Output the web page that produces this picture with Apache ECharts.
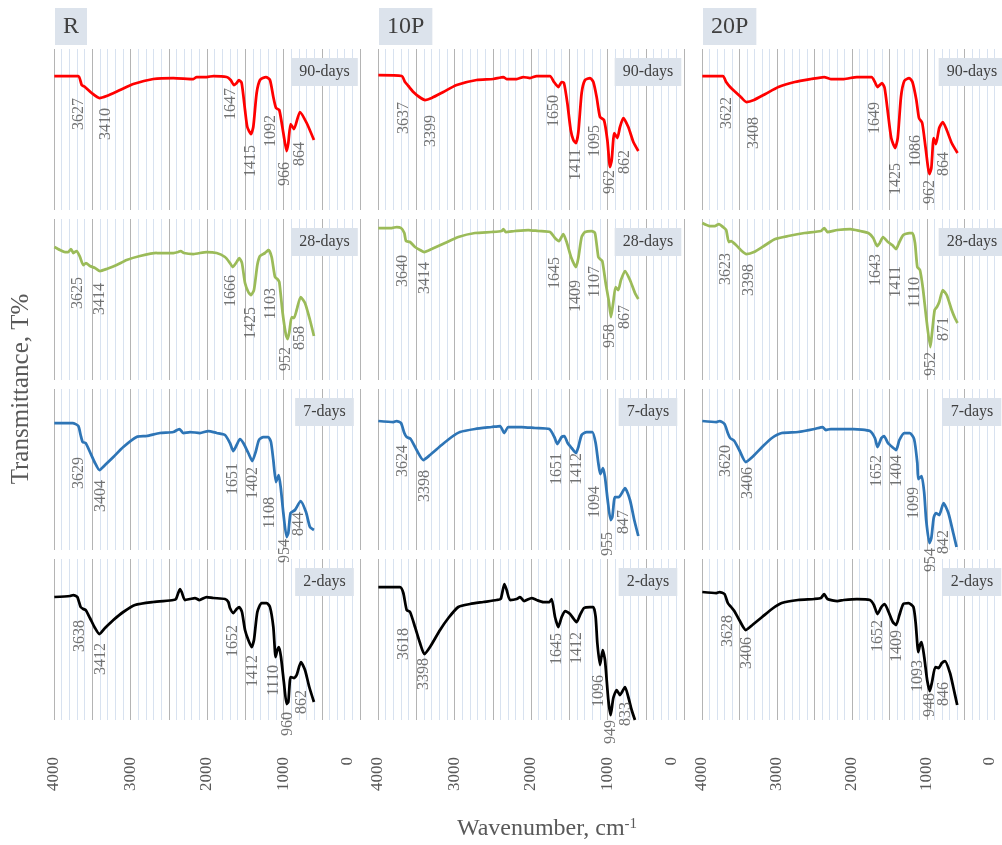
<!DOCTYPE html>
<html><head><meta charset="utf-8">
<script src="https://cdn.jsdelivr.net/npm/echarts@6/dist/echarts.min.js"></script>
<style>html,body{margin:0;padding:0;background:#fff}#c{width:1002px;height:845px}</style>
</head><body><div id="c"></div>
<script>
// ---------- categories ----------
const samples = ['R', '10P', '20P'];
const ages = ['90-days', '28-days', '7-days', '2-days'];
const xTickLabels = [4000, 3000, 2000, 1000, 0];

// ---------- spectra: [wavenumber cm-1, transmittance (a.u.)] ----------
const R_90 = [[3996,134],[3682,134],[3638,125],[3595,123],[3508,117],[3407,112],[3312,114],[3137,120],[2963,126],[2702,131],[2440,132],[2179,131],[2135,133],[2005,133],[1917,134],[1743,133],[1691,130],[1647,125],[1612,127],[1582,130],[1547,127],[1503,100],[1473,83],[1425,76],[1395,83],[1351,117],[1307,130],[1229,133],[1177,130],[1133,113],[1098,102],[1055,100],[1002,77],[959,59],[937,67],[907,86],[863,81],[785,98],[697,87],[602,70]];
const R_28 = [[3996,133],[3922,130],[3856,128],[3813,128],[3778,131],[3747,127],[3704,129],[3660,123],[3617,115],[3582,117],[3530,114],[3464,112],[3399,109],[3312,111],[3181,115],[3050,120],[2876,124],[2658,127],[2440,127],[2375,128],[2344,129],[2301,127],[2179,126],[2005,128],[1874,127],[1765,123],[1700,117],[1665,113],[1612,118],[1578,122],[1543,117],[1503,97],[1460,88],[1425,85],[1386,90],[1342,115],[1307,124],[1242,127],[1194,130],[1155,123],[1111,103],[1081,101],[1055,98],[1011,67],[968,45],[946,41],[924,48],[893,63],[863,62],[828,70],[776,83],[719,77],[654,60],[602,44]];
const R_7 = [[3996,127],[3791,127],[3756,127],[3682,124],[3652,115],[3625,108],[3586,107],[3530,98],[3464,87],[3407,80],[3333,85],[3224,93],[3094,103],[2920,113],[2789,114],[2615,117],[2440,118],[2362,121],[2310,117],[2222,118],[2092,117],[1983,119],[1874,117],[1765,115],[1700,107],[1656,99],[1612,105],[1569,111],[1525,107],[1460,97],[1408,89],[1364,98],[1321,110],[1264,113],[1199,113],[1164,108],[1133,90],[1098,68],[1063,75],[1037,63],[1002,37],[959,13],[937,17],[907,37],[850,40],[776,49],[706,38],[654,23],[602,20]];
const R_2 = [[3996,123],[3791,124],[3747,125],[3695,123],[3652,113],[3617,111],[3586,110],[3530,102],[3464,92],[3407,86],[3333,92],[3224,100],[3094,108],[2941,115],[2702,118],[2440,120],[2405,121],[2353,131],[2331,128],[2288,120],[2222,121],[2157,122],[2100,120],[2005,123],[1917,122],[1765,121],[1721,118],[1700,112],[1656,107],[1612,111],[1578,113],[1543,108],[1503,90],[1460,80],[1416,73],[1386,80],[1342,108],[1286,117],[1220,117],[1177,113],[1133,93],[1103,63],[1081,70],[1059,73],[1033,63],[994,37],[959,16],[937,18],[907,43],[863,42],[828,45],[772,58],[719,50],[663,33],[602,18]];

const P10_90 = [[3995,135],[3690,134],[3647,128],[3603,124],[3538,118],[3459,113],[3385,110],[3298,112],[3146,118],[2971,125],[2710,130],[2492,131],[2362,133],[2318,131],[2187,131],[2100,133],[2013,132],[1926,134],[1752,134],[1699,128],[1643,123],[1599,128],[1569,127],[1525,107],[1481,80],[1446,70],[1412,67],[1381,78],[1338,117],[1294,130],[1229,132],[1185,128],[1142,113],[1098,93],[1046,90],[1002,70],[967,43],[945,50],[911,77],[871,72],[837,83],[793,92],[728,83],[662,68],[597,59]];
const P10_28 = [[3996,152],[3821,152],[3756,153],[3699,152],[3656,147],[3634,139],[3582,138],[3516,133],[3451,130],[3395,128],[3299,131],[3124,137],[2950,143],[2732,147],[2514,148],[2384,149],[2362,151],[2331,148],[2209,149],[2035,150],[1904,149],[1752,148],[1687,142],[1634,139],[1578,146],[1534,138],[1477,123],[1412,113],[1381,122],[1338,143],[1294,148],[1207,149],[1164,147],[1120,123],[1098,121],[1068,119],[1024,97],[981,78],[955,63],[924,78],[894,93],[859,90],[824,100],[771,109],[706,100],[641,87],[597,81]];
const P10_7 = [[3996,129],[3800,128],[3756,129],[3699,127],[3656,117],[3625,113],[3573,111],[3495,100],[3408,90],[3320,95],[3168,105],[3037,113],[2928,118],[2732,121],[2514,123],[2405,124],[2349,117],[2297,123],[2122,123],[1948,122],[1761,121],[1695,113],[1656,106],[1600,113],[1565,114],[1521,107],[1469,102],[1412,97],[1381,103],[1338,115],[1273,118],[1199,118],[1155,107],[1120,87],[1094,76],[1059,82],[1033,73],[998,50],[959,30],[937,33],[902,53],[850,53],[771,62],[706,50],[650,30],[597,14]];
const P10_2 = [[3995,133],[3712,133],[3669,127],[3625,110],[3581,108],[3516,93],[3451,77],[3394,66],[3320,73],[3189,90],[3080,102],[2950,113],[2797,116],[2623,118],[2449,120],[2396,121],[2348,136],[2318,130],[2274,120],[2187,121],[2144,123],[2091,119],[1991,122],[1926,120],[1839,118],[1760,118],[1730,121],[1686,103],[1643,93],[1599,103],[1555,109],[1490,106],[1403,98],[1359,105],[1307,112],[1229,113],[1185,113],[1155,103],[1133,77],[1098,55],[1063,70],[1033,60],[989,20],[959,5],[924,22],[880,30],[837,25],[771,33],[728,23],[684,10],[641,0]];

const P20_90 = [[3996,134],[3721,134],[3678,128],[3625,123],[3569,119],[3482,113],[3408,108],[3307,110],[3155,116],[2981,123],[2763,128],[2545,131],[2371,133],[2283,131],[2109,131],[1935,133],[1739,133],[1695,128],[1660,123],[1630,125],[1600,127],[1565,122],[1521,97],[1477,72],[1425,62],[1390,72],[1347,113],[1303,129],[1238,132],[1194,128],[1142,110],[1107,92],[1064,87],[1020,63],[968,36],[942,42],[911,72],[881,66],[837,82],[789,88],[737,80],[671,67],[593,57]];
const P20_28 = [[3996,157],[3896,154],[3830,154],[3774,156],[3721,153],[3678,150],[3643,138],[3612,139],[3547,135],[3469,129],[3408,126],[3307,128],[3155,135],[3024,141],[2850,144],[2632,147],[2414,149],[2371,152],[2327,148],[2196,150],[2022,151],[1891,149],[1782,147],[1717,142],[1665,134],[1630,137],[1586,143],[1521,138],[1464,135],[1412,131],[1368,138],[1316,145],[1238,147],[1194,147],[1160,137],[1129,113],[1094,110],[1055,92],[1011,63],[955,33],[933,47],[898,70],[868,73],[837,78],[789,90],[737,85],[671,70],[628,62],[593,57]];
const P20_7 = [[3996,129],[3808,128],[3765,129],[3700,126],[3656,117],[3625,112],[3569,109],[3503,100],[3416,88],[3329,93],[3198,103],[3068,112],[2937,117],[2719,118],[2501,121],[2392,123],[2349,120],[2283,121],[2109,121],[1978,121],[1761,119],[1695,112],[1660,103],[1608,112],[1573,114],[1521,107],[1464,103],[1412,100],[1368,110],[1303,117],[1229,117],[1172,111],[1129,87],[1116,71],[1072,74],[1037,57],[1011,30],[968,7],[942,12],[911,32],[881,37],[837,35],[780,47],[715,37],[650,17],[606,3]];
const P20_2 = [[3996,128],[3808,127],[3765,128],[3700,126],[3656,117],[3612,113],[3569,109],[3503,100],[3416,90],[3329,95],[3198,103],[3068,111],[2937,117],[2719,120],[2501,121],[2414,122],[2371,126],[2327,121],[2196,119],[2109,120],[1935,121],[1761,120],[1708,115],[1660,106],[1608,113],[1565,116],[1512,108],[1456,98],[1412,95],[1368,105],[1316,116],[1247,117],[1181,113],[1151,97],[1116,68],[1094,75],[1072,78],[1037,63],[998,40],[963,29],[933,38],[889,53],[846,52],[802,57],[759,59],[693,47],[650,33],[597,15]];

// ---------- peak annotations: [wavenumber, transmittance at label top, text] ----------
const R_90_peaks = [[3682,112,'3627'],[3325,102,'3410'],[1691,122,'1647'],[1429,65,'1415'],[1168,95,'1092'],[981,48,'966'],[793,68,'864']];
const R_28_peaks = [[3695,103,'3625'],[3399,97,'3414'],[1691,105,'1666'],[1429,73,'1425'],[1168,92,'1103'],[968,33,'952'],[793,54,'858']];
const R_7_peaks = [[3682,93,'3629'],[3390,70,'3404'],[1665,87,'1651'],[1403,83,'1402'],[1177,53,'1108'],[981,11,'954'],[806,38,'844']];
const R_2_peaks = [[3660,100,'3638'],[3390,77,'3412'],[1665,95,'1652'],[1403,65,'1412'],[1133,55,'1110'],[950,8,'960'],[763,30,'862']];
const P10_90_peaks = [[3669,108,'3637'],[3311,95,'3399'],[1699,115,'1650'],[1416,61,'1411'],[1163,85,'1095'],[976,40,'962'],[771,60,'862']];
const P10_28_peaks = [[3682,125,'3640'],[3386,118,'3414'],[1687,123,'1645'],[1412,100,'1409'],[1164,114,'1107'],[968,56,'958'],[780,75,'867']];
const P10_7_peaks = [[3682,105,'3624'],[3386,80,'3398'],[1665,97,'1651'],[1403,97,'1412'],[1164,64,'1094'],[998,18,'955'],[793,40,'847']];
const P10_2_peaks = [[3669,92,'3618'],[3398,62,'3398'],[1664,87,'1645'],[1403,88,'1412'],[1120,45,'1096'],[959,0,'949'],[762,18,'833']];
const P20_90_peaks = [[3669,113,'3622'],[3307,93,'3408'],[1695,108,'1649'],[1421,47,'1425'],[1151,75,'1086'],[968,30,'962'],[780,58,'864']];
const P20_28_peaks = [[3686,127,'3623'],[3373,116,'3398'],[1682,126,'1643'],[1412,114,'1411'],[1160,103,'1110'],[955,28,'952'],[780,63,'871']];
const P20_7_peaks = [[3678,105,'3620'],[3394,83,'3406'],[1674,95,'1652'],[1403,95,'1404'],[1172,63,'1099'],[955,2,'954'],[780,20,'842']];
const P20_2_peaks = [[3656,105,'3628'],[3408,83,'3406'],[1652,100,'1652'],[1403,90,'1409'],[1129,60,'1093'],[963,27,'948'],[780,38,'846']];

const spectra = [[R_90, R_28, R_7, R_2], [P10_90, P10_28, P10_7, P10_2], [P20_90, P20_28, P20_7, P20_2]];
const peaks = [[R_90_peaks, R_28_peaks, R_7_peaks, R_2_peaks], [P10_90_peaks, P10_28_peaks, P10_7_peaks, P10_2_peaks], [P20_90_peaks, P20_28_peaks, P20_7_peaks, P20_2_peaks]];

// ---------- layout & style ----------
const FONT = "'Liberation Serif','Times New Roman',serif";
const lineColors = ['#ff0000', '#9bbb59', '#2e75b6', '#000000'];
const colLeft = [54, 378, 702], colWidth = [306, 306, 305];
const rowTop = [49, 219, 389, 559], rowH = 161;
const boxCenter = [324.5, 648, 972];
const BOX = '#dce3ec';

const grids = [], xAxes = [], yAxes = [], series = [], titles = [];
samples.forEach((s, c) => {
  titles.push({text: s, left: colLeft[c] + 1, top: 8, backgroundColor: BOX, padding: [6, 8, 6, 8],
    textStyle: {fontFamily: FONT, fontSize: 24, fontWeight: 'normal', color: '#404040', lineHeight: 25}});
  ages.forEach((a, r) => {
    const i = c * 4 + r;
    grids.push({left: colLeft[c], top: rowTop[r], width: colWidth[c], height: rowH});
    xAxes.push({
      gridIndex: i, type: 'value', min: 0, max: 4000, interval: 500, inverse: true,
      axisLine: {show: false}, axisTick: {show: false},
      splitLine: {show: true, lineStyle: {color: '#b4b4b4', width: 1}},
      minorTick: {show: false, splitNumber: 5},
      minorSplitLine: {show: true, lineStyle: {color: '#d8e2f0', width: 1}},
      axisLabel: {
        show: r === 3, interval: 0, rotate: 90, margin: 37,
        fontFamily: FONT, fontSize: 17, color: '#595959',
        formatter: v => v === 0 ? '{z|0}' : (xTickLabels.indexOf(v) >= 0 ? String(v) : ''),
        rich: {z: {padding: [0, 0, 24, 0], fontFamily: FONT, fontSize: 17, color: '#595959'}}
      }
    });
    yAxes.push({gridIndex: i, type: 'value', min: 0, max: 161, show: false});
    series.push({
      type: 'line', xAxisIndex: i, yAxisIndex: i, data: spectra[c][r],
      symbol: 'none', smooth: 0.2, clip: false, silent: true, z: 3,
      lineStyle: {color: lineColors[r], width: 2.75}
    });
    series.push({
      type: 'scatter', xAxisIndex: i, yAxisIndex: i, data: peaks[c][r],
      symbolSize: 0, silent: true, z: 4,
      label: {show: true, formatter: p => p.data[2], position: 'inside', rotate: 90,
        align: 'right', verticalAlign: 'middle', fontFamily: FONT, fontSize: 16, color: '#505050'}
    });
    const w = a.length > 6 ? 66.7 : 58.7;
    titles.push({text: a, left: boxCenter[c] - w / 2, top: rowTop[r] + 9, backgroundColor: BOX, padding: [5, 8, 5, 8],
      textStyle: {fontFamily: FONT, fontSize: 16, fontWeight: 'normal', color: '#404040', lineHeight: 18}});
  });
});

const chart = echarts.init(document.getElementById('c'));
chart.setOption({
  animation: false,
  backgroundColor: '#ffffff',
  title: titles,
  grid: grids, xAxis: xAxes, yAxis: yAxes, series: series,
  graphic: [
    {type: 'text', x: 547, y: 829, style: {text: 'Wavenumber, cm{sup|-1}', align: 'center', verticalAlign: 'middle',
      fontFamily: FONT, fontSize: 24, fill: '#595959',
      rich: {sup: {fontFamily: FONT, fontSize: 15, fill: '#595959', verticalAlign: 'top', padding: [0, 0, 10, 0]}}}},
    {type: 'text', x: 21, y: 389, rotation: Math.PI / 2, style: {text: 'Transmittance, T%', align: 'center', verticalAlign: 'middle',
      fontFamily: FONT, fontSize: 25, fill: '#595959'}}
  ]
});
</script></body></html>
